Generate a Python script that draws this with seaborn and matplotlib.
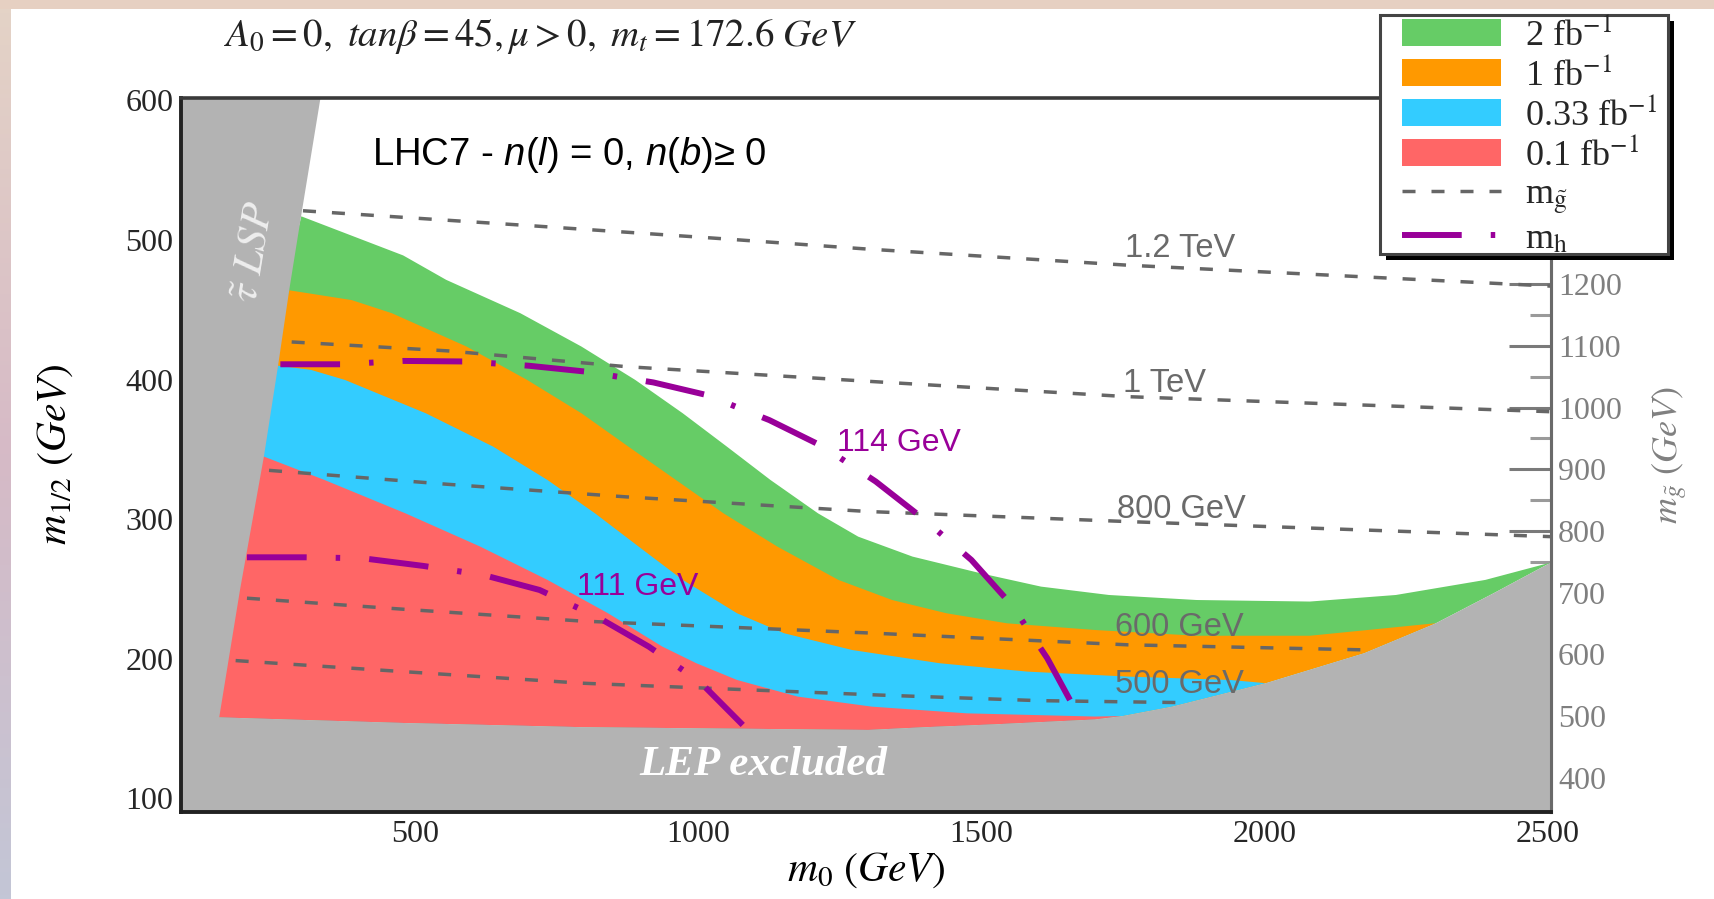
import numpy as np
import matplotlib
matplotlib.use("Agg")
import matplotlib.pyplot as plt
import seaborn as sns
from matplotlib.patches import Patch, Rectangle
from matplotlib.lines import Line2D
from matplotlib.font_manager import FontProperties

# ---------------- data (m0, m1/2 in GeV) ----------------
stau_m0 = [332, 298, 277, 257, 232, 190, 153, 150, 150]
stau_m12 = [602, 518, 465, 410, 345, 250, 158, 108, 90]

lep_m0 = [85, 153, 478, 794, 1043, 1300, 1402, 1522, 1700, 1750, 1837, 2002, 2176, 2303, 2405, 2506]
lep_m12 = [158, 158, 154, 151, 150, 149, 151, 153, 156.5, 159, 165.7, 182.5, 204, 225.5, 247, 269]

green_m0 = [298, 478, 554, 685, 793, 888, 972, 1050, 1127, 1211, 1282, 1378, 1498, 1605, 1725,
            1880, 2080, 2232, 2390, 2506]
green_m12 = [517, 489, 471.5, 447.6, 423.7, 399.8, 375.9, 352, 328.1, 304.2, 287.5, 273.2, 261.3,
             251.7, 245.7, 242.1, 241, 245.7, 256.5, 269]

orange_m0 = [277, 387, 458, 590, 697, 793, 876, 960, 1044, 1139, 1247, 1342, 1438, 1545, 1701,
             1880, 2080, 2303]
orange_m12 = [464, 457, 447.6, 423.7, 399.8, 375.9, 352, 328.1, 304.2, 280.4, 256.5, 242.1, 232.6,
              225.4, 220.6, 216.5, 216.5, 225.5]

blue_m0 = [257, 315, 375, 518, 637, 733, 817, 894, 972, 1068, 1151, 1271, 1426, 1581, 1760, 1940, 2002]
blue_m12 = [410, 407, 399.8, 375.9, 352, 328.1, 304.2, 280.4, 256.5, 232.6, 218.3, 206.3, 196.8,
            190.8, 187.2, 184.8, 182.5]

red_m0 = [231, 339, 482, 614, 733, 840, 936, 996, 1068, 1175, 1306, 1474, 1700, 1750]
red_m12 = [345, 328.1, 304.2, 280.4, 256.5, 232.6, 208.7, 196.8, 184.8, 172.9, 165.7, 160.9, 158.6, 159]

g1200_m0 = [301, 714, 1030, 1300, 1758, 2506]
g1200_m12 = [521, 510, 501.3, 493.5, 482, 467]
g1000_m0 = [281, 557, 872, 1300, 1758, 2506]
g1000_m12 = [427, 420.6, 409.3, 398.8, 387.8, 377]
g800_m0 = [241, 557, 872, 1300, 1758, 2506]
g800_m12 = [335, 325, 316, 305.5, 298.3, 287.5]
g600_m0 = [202, 478, 794, 1300, 1758, 2185]
g600_m12 = [243.4, 235.5, 227, 218.5, 210, 206.3]
g500_m0 = [182, 478, 794, 1320, 1601, 1853]
g500_m12 = [198.7, 190.8, 182.5, 174, 170, 168.6]

h114_m0 = [261, 368, 478, 588, 699, 802, 920, 1014, 1125, 1220, 1313, 1396, 1482, 1553, 1616, 1664]
h114_m12 = [411, 411, 413.4, 413, 410, 405.7, 398, 389, 371, 352, 327, 300.7, 270.8, 238.6, 200.4, 164.6]
h111_m0 = [202, 305, 407, 514, 620, 719, 821, 912, 1002, 1078]
h111_m12 = [272.7, 272.7, 272, 266.5, 260, 249.3, 230, 208.7, 183.6, 152.6]

gluino_labels = ["1.2 TeV", "1 TeV", "800 GeV", "600 GeV", "500 GeV"]
gluino_label_pos = [(1754, 488), (1750, 391), (1739, 300.7), (1735, 216), (1735, 175.3)]
higgs_labels = ["114 GeV", "111 GeV"]
higgs_label_pos = [(1244, 349), (786, 245.8)]

legend_labels = [r"2 fb$^{-1}$", r"1 fb$^{-1}$", r"0.33 fb$^{-1}$", r"0.1 fb$^{-1}$",
                 r"m$_{\tilde{\mathrm{g}}}$", r"m$_{\mathrm{h}}$"]

x_major = [500, 1000, 1500, 2000, 2500]
x_minor = [250, 750, 1250, 1750, 2250]
y_major = [100, 200, 300, 400, 500, 600]
y_minor = [150, 250, 350, 450, 550]
mg_major = [400, 500, 600, 700, 800, 900, 1000, 1100, 1200]
mg_minor = [350, 450, 550, 650, 750, 850, 950, 1050, 1150]

# ---------------- style ----------------
C_GREEN, C_ORANGE, C_BLUE, C_RED = "#66CC66", "#FF9900", "#33CCFF", "#FF6666"
C_GRAY = "#B3B3B3"
C_PURPLE = "#990099"
C_DASH = "#666666"

sns.set_theme(style="white")
plt.rcParams["font.family"] = ["Liberation Serif", "DejaVu Sans"]
plt.rcParams["mathtext.fontset"] = "custom"
plt.rcParams["mathtext.rm"] = "Liberation Sans"
plt.rcParams["mathtext.it"] = "Liberation Sans:italic"
plt.rcParams["mathtext.bf"] = "Liberation Sans:bold"

W, H = 1715, 899
fig = plt.figure(figsize=(W / 100, H / 100), dpi=100)
fig.patch.set_facecolor("white")

# decorative frame strips
fig.add_artist(Rectangle((0, 1 - 9 / H), 1, 9 / H, transform=fig.transFigure,
                         facecolor="#e6d0c2", edgecolor="none", zorder=-5))
axg = fig.add_axes([0, 0, 11 / W, 1 - 9 / H])
top_c = np.array([0xe4, 0xd3, 0xc6]) / 255
mid_c = np.array([0xd6, 0xba, 0xc6]) / 255
bot_c = np.array([0xc3, 0xc6, 0xd6]) / 255
t = np.linspace(0, 1, 200)[:, None]
grad = np.where(t < 0.5, top_c * (1 - 2 * t) + mid_c * (2 * t), mid_c * (2 - 2 * t) + bot_c * (2 * t - 1))
axg.imshow(grad[:, None, :], aspect="auto")
axg.axis("off")

ax = fig.add_axes([0.10525, 0.09722, 0.7991, 0.7941])
ax.set_facecolor("white")


def band(ax, top_x, top_y, color, z):
    xe = top_x[-1]
    lx = [x for x in lep_m0 if x <= xe]
    ly = [y for x, y in zip(lep_m0, lep_m12) if x <= xe]
    xs = list(top_x) + lx[::-1]
    ys = list(top_y) + ly[::-1]
    ax.fill(xs, ys, color=color, lw=0, zorder=z)


band(ax, green_m0, green_m12, C_GREEN, 1)
band(ax, orange_m0, orange_m12, C_ORANGE, 2)
band(ax, blue_m0, blue_m12, C_BLUE, 3)
band(ax, red_m0, red_m12, C_RED, 4)

# gluino mass contours
for xs, ys in [(g1200_m0, g1200_m12), (g1000_m0, g1000_m12), (g800_m0, g800_m12),
               (g600_m0, g600_m12), (g500_m0, g500_m12)]:
    sns.lineplot(x=xs, y=ys, ax=ax, sort=False, estimator=None, color=C_DASH,
                 linewidth=2.5, linestyle=(0, (3.75, 4.6)), legend=False, zorder=5)

# higgs mass contours
for xs, ys in [(h114_m0, h114_m12), (h111_m0, h111_m12)]:
    sns.lineplot(x=xs, y=ys, ax=ax, sort=False, estimator=None, color=C_PURPLE,
                 linewidth=4.3, linestyle=(0, (10, 4.86, 0.75, 4.86)), legend=False, zorder=6)

# excluded regions
ax.fill(list(lep_m0) + [2506, 85], list(lep_m12) + [90, 90], color=C_GRAY, lw=0, zorder=7)
ax.fill([85] + list(stau_m0) + [85], [602] + list(stau_m12) + [90], color=C_GRAY, lw=0, zorder=7)

# labels on contours
for lab, (x, y) in zip(gluino_labels, gluino_label_pos):
    ax.text(x, y, lab, color="#6a6a6a", fontsize=23.5, family="Liberation Sans",
            ha="left", va="baseline", zorder=8)
for lab, (x, y) in zip(higgs_labels, higgs_label_pos):
    ax.text(x, y, lab, color=C_PURPLE, fontsize=23, family="Liberation Sans",
            ha="left", va="baseline", zorder=8)

ax.text(423, 554, r"LHC7 - $n(l)$ = $\mathit{0}$, $n(b)$≥ $\mathit{0}$", fontsize=27.5,
        family="Liberation Sans", color="black", ha="left", va="baseline",
        math_fontfamily="custom", zorder=8)
ax.text(896, 116.8, "LEP excluded", fontsize=31, family="Liberation Serif",
        style="italic", weight="bold", color="white", ha="left", va="baseline", zorder=8)
ax.text(214, 491.5, r"$\tilde{\tau}$ $LSP$", fontsize=31, color="#eeeeee",
        rotation=80.7, ha="center", va="center", math_fontfamily="stix", zorder=8)

# axes limits / ticks
ax.set_xlim(84.6, 2506)
ax.set_ylim(90.5, 602)
ax.set_xticks(x_major)
ax.set_xticks(x_minor, minor=True)
ax.set_yticks(y_major)
ax.set_yticks(y_minor, minor=True)
ax.set_xticklabels([str(v) for v in x_major])
ax.set_yticklabels([str(v) for v in y_major])
ax.tick_params(axis="y", which="major", direction="in", length=29, width=2.2,
               color="#2a2a2a", labelsize=23, pad=5, right=False, left=True)
ax.tick_params(axis="y", which="minor", direction="in", length=13, width=2.2,
               color="#3a3a3a", right=False, left=True)
ax.tick_params(axis="x", which="major", direction="in", length=15, width=2,
               color="#2a2a2a", labelsize=23, pad=6, top=False, bottom=True)
ax.tick_params(axis="x", which="minor", direction="in", length=6.5, width=2,
               color="#2a2a2a", top=False, bottom=True)
for lab in ax.get_xticklabels() + ax.get_yticklabels():
    lab.set_family("Liberation Serif")

for s in ["left", "bottom"]:
    ax.spines[s].set_color("#222222")
    ax.spines[s].set_linewidth(2.8)
ax.spines["top"].set_color("#3a3a3a")
ax.spines["top"].set_linewidth(2.6)
ax.spines["right"].set_color("#6a6a6a")
ax.spines["right"].set_linewidth(2.2)
for s in ax.spines.values():
    s.set_zorder(10)

ax.set_xlabel(r"$m_{\mathit{0}}\ (GeV)$", fontsize=30, math_fontfamily="stix", color="black")
ax.xaxis.set_label_coords(0.5, -0.055)
ax.xaxis.label.set_va("top")
ax.set_ylabel(r"$m_{\mathit{1/2}}\ (GeV)$", fontsize=30, math_fontfamily="stix", color="black")
ax.yaxis.set_label_coords(-0.077, 0.5)

# secondary gluino mass axis
A_G, B_G = 2.263, 140.2
sec = ax.secondary_yaxis("right", functions=(lambda y: A_G * y + B_G, lambda g: (g - B_G) / A_G))
sec.set_yticks(mg_major)
sec.set_yticks(mg_minor, minor=True)
sec.set_yticklabels([str(v) for v in mg_major])
sec.tick_params(axis="y", which="major", direction="in", length=30, width=2.2,
                color="#7a7a7a", labelsize=23, labelcolor="#7f7f7f", pad=5)
sec.tick_params(axis="y", which="minor", direction="in", length=15, width=2.2, color="#9a9a9a")
for lab in sec.get_yticklabels():
    lab.set_family("Liberation Serif")
sec.spines["right"].set_color("#6a6a6a")
sec.spines["right"].set_linewidth(2.2)
sec.set_ylabel(r"$m_{\tilde{g}}\ (GeV)$", fontsize=26, math_fontfamily="stix", color="#808080")
sec.yaxis.set_label_coords(1650 / W, 1 - 455 / H, transform=fig.transFigure)

# title
fig.text(224 / W, 1 - 46 / H,
         r"$A_{\mathit{0}} = \mathit{0},\ tan\beta = \mathit{45}, \mu > \mathit{0},\ m_{t} = \mathit{172.6}\ GeV$",
         fontsize=28, math_fontfamily="stix", color="#222222", ha="left", va="baseline")

# legend box with drop shadow (figure pixels)
bx0, by0, bx1, by1 = 1380, 15, 1668, 254
fig.add_artist(Rectangle(((bx0 + 6) / W, 1 - (by1 + 6) / H), (bx1 - bx0) / W, (by1 - by0) / H,
                         transform=fig.transFigure, facecolor="black", edgecolor="none", zorder=14))
fig.add_artist(Rectangle((bx0 / W, 1 - by1 / H), (bx1 - bx0) / W, (by1 - by0) / H,
                         transform=fig.transFigure, facecolor="white", edgecolor="#444444",
                         linewidth=2.2, zorder=15))

handles = [Patch(facecolor=c, edgecolor="none") for c in (C_GREEN, C_ORANGE, C_BLUE, C_RED)]
handles.append(Line2D([], [], color=C_DASH, lw=2.5, linestyle=(0, (3.75, 4.6))))
handles.append(Line2D([], [], color=C_PURPLE, lw=4.3, linestyle=(0, (10, 4.86, 0.75, 4.86))))
leg = fig.legend(handles, legend_labels, loc="upper left",
                 bbox_to_anchor=(1402.5 / W, 1 - 18 / H), bbox_transform=fig.transFigure,
                 prop=FontProperties(family="Liberation Serif", size=26, math_fontfamily="stix"),
                 frameon=False, handlelength=2.72, handleheight=0.75,
                 handletextpad=0.67, borderpad=0.0, labelspacing=0.14, borderaxespad=0)
leg.set_zorder(20)

fig.savefig("out.png", dpi=100)
